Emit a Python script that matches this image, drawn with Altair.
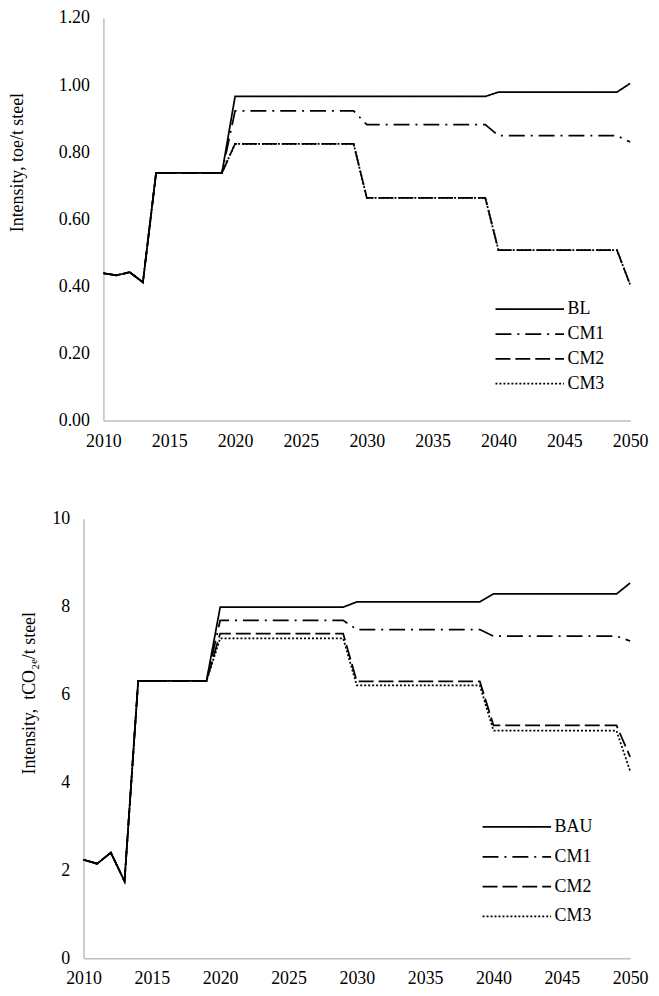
import altair as alt
import pandas as pd

years = list(range(2010, 2051))

# ---- top panel: energy intensity (toe/t steel)
top_names = ["BL", "CM1", "CM2", "CM3"]
top_BL = [0.439, 0.433, 0.442, 0.412, 0.738, 0.738, 0.738, 0.738, 0.738, 0.738,
          0.966, 0.966, 0.966, 0.966, 0.966, 0.966, 0.966, 0.966, 0.966, 0.966,
          0.966, 0.966, 0.966, 0.966, 0.966, 0.966, 0.966, 0.966, 0.966, 0.966,
          0.979, 0.979, 0.979, 0.979, 0.979, 0.979, 0.979, 0.979, 0.979, 0.979,
          1.005]
top_CM1 = [0.439, 0.433, 0.442, 0.412, 0.738, 0.738, 0.738, 0.738, 0.738, 0.738,
           0.923, 0.923, 0.923, 0.923, 0.923, 0.923, 0.923, 0.923, 0.923, 0.923,
           0.882, 0.882, 0.882, 0.882, 0.882, 0.882, 0.882, 0.882, 0.882, 0.882,
           0.849, 0.849, 0.849, 0.849, 0.849, 0.849, 0.849, 0.849, 0.849, 0.849,
           0.830]
top_CM2 = [0.439, 0.433, 0.442, 0.412, 0.738, 0.738, 0.738, 0.738, 0.738, 0.738,
           0.825, 0.825, 0.825, 0.825, 0.825, 0.825, 0.825, 0.825, 0.825, 0.825,
           0.664, 0.664, 0.664, 0.664, 0.664, 0.664, 0.664, 0.664, 0.664, 0.664,
           0.508, 0.508, 0.508, 0.508, 0.508, 0.508, 0.508, 0.508, 0.508, 0.508,
           0.405]
top_CM3 = [0.439, 0.433, 0.442, 0.412, 0.738, 0.738, 0.738, 0.738, 0.738, 0.738,
           0.825, 0.825, 0.825, 0.825, 0.825, 0.825, 0.825, 0.825, 0.825, 0.825,
           0.664, 0.664, 0.664, 0.664, 0.664, 0.664, 0.664, 0.664, 0.664, 0.664,
           0.508, 0.508, 0.508, 0.508, 0.508, 0.508, 0.508, 0.508, 0.508, 0.508,
           0.405]

# ---- bottom panel: emission intensity (tCO2e/t steel)
bot_names = ["BAU", "CM1", "CM2", "CM3"]
bot_BAU = [2.24, 2.15, 2.40, 1.75, 6.31, 6.31, 6.31, 6.31, 6.31, 6.31,
           7.99, 7.99, 7.99, 7.99, 7.99, 7.99, 7.99, 7.99, 7.99, 7.99,
           8.11, 8.11, 8.11, 8.11, 8.11, 8.11, 8.11, 8.11, 8.11, 8.11,
           8.29, 8.29, 8.29, 8.29, 8.29, 8.29, 8.29, 8.29, 8.29, 8.29,
           8.54]
bot_CM1 = [2.24, 2.15, 2.40, 1.75, 6.31, 6.31, 6.31, 6.31, 6.31, 6.31,
           7.69, 7.69, 7.69, 7.69, 7.69, 7.69, 7.69, 7.69, 7.69, 7.69,
           7.48, 7.48, 7.48, 7.48, 7.48, 7.48, 7.48, 7.48, 7.48, 7.48,
           7.33, 7.33, 7.33, 7.33, 7.33, 7.33, 7.33, 7.33, 7.33, 7.33,
           7.22]
bot_CM2 = [2.24, 2.15, 2.40, 1.75, 6.31, 6.31, 6.31, 6.31, 6.31, 6.31,
           7.39, 7.39, 7.39, 7.39, 7.39, 7.39, 7.39, 7.39, 7.39, 7.39,
           6.30, 6.30, 6.30, 6.30, 6.30, 6.30, 6.30, 6.30, 6.30, 6.30,
           5.30, 5.30, 5.30, 5.30, 5.30, 5.30, 5.30, 5.30, 5.30, 5.30,
           4.58]
bot_CM3 = [2.24, 2.15, 2.40, 1.75, 6.31, 6.31, 6.31, 6.31, 6.31, 6.31,
           7.28, 7.28, 7.28, 7.28, 7.28, 7.28, 7.28, 7.28, 7.28, 7.28,
           6.21, 6.21, 6.21, 6.21, 6.21, 6.21, 6.21, 6.21, 6.21, 6.21,
           5.18, 5.18, 5.18, 5.18, 5.18, 5.18, 5.18, 5.18, 5.18, 5.18,
           4.26]

x_ticks = [2010, 2015, 2020, 2025, 2030, 2035, 2040, 2045, 2050]
top_yticks = [0.0, 0.2, 0.4, 0.6, 0.8, 1.0, 1.2]
bot_yticks = [0, 2, 4, 6, 8, 10]

dashes = [[1, 0], [16, 6, 2, 6], [15, 5], [2, 2]]
FONT = "Liberation Serif"


def long_df(names, series):
    rows = []
    for n, vals in zip(names, series):
        for y, v in zip(years, vals):
            rows.append({"year": y, "value": v, "series": n})
    return pd.DataFrame(rows)


def panel(df, names, ydom, yticks, yfmt, ytitle, title_x, title_y,
          w, xrange, h, y_offset, lx, ly, rowpad):
    legend = alt.Legend(
        title=None, orient="none", legendX=lx, legendY=ly, padding=0,
        symbolType="M-5,0H5", symbolSize=190, symbolStrokeWidth=1.75,
        symbolStrokeColor="black", symbolFillColor="transparent",
        labelFont=FONT, labelFontSize=18,
        labelColor="black", labelOffset=29, rowPadding=rowpad,
    )
    return alt.Chart(df).mark_line(color="black", strokeWidth=1.75).encode(
        x=alt.X("year:Q",
                scale=alt.Scale(domain=[2010, 2050], nice=False, zero=False,
                                range=xrange),
                axis=alt.Axis(values=x_ticks, format="d", title=None,
                              labelFlush=False, labelPadding=12,
                              labelFont=FONT, labelFontSize=18,
                              labelColor="black")),
        y=alt.Y("value:Q",
                scale=alt.Scale(domain=ydom, nice=False),
                axis=alt.Axis(values=yticks, format=yfmt, title=ytitle,
                              offset=y_offset,
                              labelFlush=False, labelPadding=14,
                              labelFont=FONT, labelFontSize=18,
                              labelColor="black",
                              titleFont=FONT, titleFontSize=18,
                              titleColor="black", titleFontWeight="normal",
                              titleX=title_x, titleY=title_y,
                              titleBaseline="middle", titleAlign="center")),
        strokeDash=alt.StrokeDash("series:N",
                                  scale=alt.Scale(domain=names, range=dashes),
                                  legend=legend),
        order=alt.Order("year:Q"),
    ).properties(width=w, height=h)


top = panel(long_df(top_names, [top_BL, top_CM1, top_CM2, top_CM3]),
            top_names, [0, 1.2], top_yticks, ".2f",
            "Intensity, toe/t steel", -86, 145,
            530, [0, 530], 405, 0, 420, 284, 7)

bottom = panel(long_df(bot_names, [bot_BAU, bot_CM1, bot_CM2, bot_CM3]),
               bot_names, [0, 10], bot_yticks, "d",
               "Intensity,\u00a0 tCO\u2082\u2091/t steel", -54, 175,
               530, [-20, 530], 442, 20, 407, 301, 12)

chart = alt.vconcat(top, bottom, spacing=58).resolve_scale(
    strokeDash="independent"
).resolve_legend(strokeDash="independent").properties(
    padding={"left": 0, "top": -3, "right": 0, "bottom": -4}
).configure_view(stroke="transparent").configure_axis(
    domainColor="#bfbfbf", domainWidth=1.5, ticks=False, grid=False,
)

chart.save("out.html", embed_options={"renderer": "svg", "actions": False})
